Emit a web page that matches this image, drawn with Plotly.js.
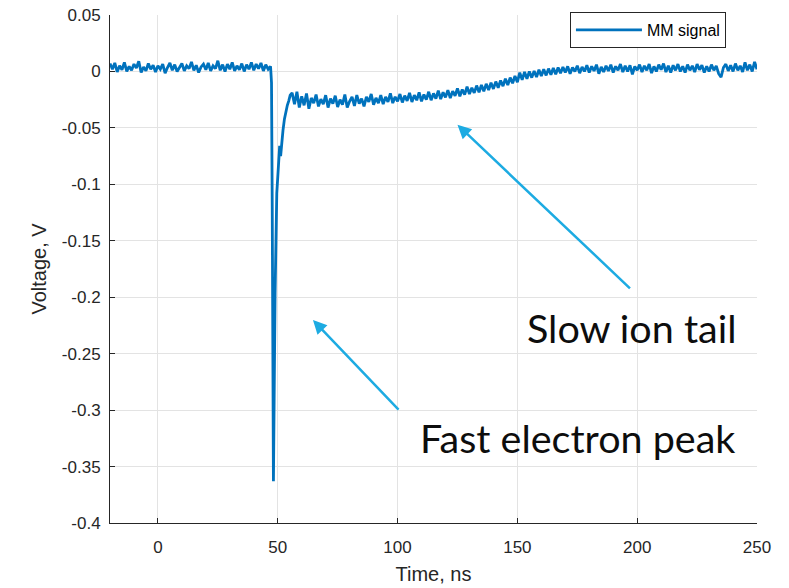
<!DOCTYPE html>
<html>
<head>
<meta charset="utf-8">
<script src="https://cdn.plot.ly/plotly-3.0.1.min.js"></script>
<style>
html,body{margin:0;padding:0;background:#fff;}
#chart{width:789px;height:588px;}
</style>
</head>
<body>
<div id="chart"></div>
<script>
// Baseline before the pulse (ns, V)
var preTime = [-20,-19,-18,-17,-16,-15,-14,-13,-12,-11,-10,-9,-8,-7,-6,-5,-4,-3,-2,-1,0,1,2,3,4,5,6,7,8,9,10,11,12,13,14,15,16,17,18,19,20,21,22,23,24,25,26,27,28,29,30,31,32,33,34,35,36,37,38,39,40,41,42,43,44,45,46,47];
var preVolt = [0.0070,0.0020,0.0075,-0.0005,0.0050,0.0015,0.0080,0.0000,0.0045,0.0010,
0.0065,0.0030,0.0090,-0.0010,0.0040,0.0005,0.0070,0.0020,0.0055,-0.0005,
0.0050,0.0020,0.0065,-0.0015,0.0035,0.0075,0.0010,0.0060,0.0000,0.0040,
0.0070,0.0005,0.0050,0.0025,0.0085,0.0010,0.0055,-0.0010,0.0040,0.0065,
0.0015,0.0075,0.0005,0.0050,0.0025,0.0095,0.0010,0.0060,0.0000,0.0065,
0.0020,0.0080,0.0005,0.0050,0.0015,0.0070,0.0000,0.0060,0.0020,0.0080,
0.0010,0.0065,0.0025,0.0075,0.0005,0.0060,0.0020,0.0045];

// Fast electron peak
var peakTime = [47.4,47.7,48.0,48.2,48.5,48.9,49.6,50.3,50.8,51.2,51.6,52.2,52.8,53.4,54.0,54.6,55.2];
var peakVolt = [-0.010,-0.120,-0.280,-0.363,-0.290,-0.196,-0.108,-0.079,-0.066,-0.075,-0.062,-0.052,-0.042,-0.034,-0.030,-0.026,-0.021];

// Slow ion tail
var tailTime = [56,57,58,59,60,61,62,63,64,65,66,67,68,69,70,71,72,73,74,75,76,77,78,79,80,81,82,83,84,85,86,87,88,89,90,91,92,93,94,95,96,97,98,99,100,101,102,103,104,105,106,107,108,109,110,111,112,113,114,115,116,117,118,119,120,121,122,123,124,125,126,127,128,129,130,131,132,133,134,135,136,137,138,139,140,141,142,143,144,145,146,147,148,149,150,151,152,153,154,155,156,157,158,159,160,161,162,163,164,165,166,167,168,169,170,171,172,173,174,175,176,177,178,179,180,181,182,183,184,185,186,187,188,189,190,191,192,193,194,195,196,197,198,199,200,201,202,203,204,205,206,207,208,209,210,211,212,213,214,215,216,217,218,219,220,221,222,223,224,225,226,227,228,229,230,231,232,233,234,235,236,237,238,239,240,241,242,243,244,245,246,247,248,249,250];
var tailVolt = [-0.0190,-0.0290,-0.0180,-0.0320,-0.0220,-0.0300,-0.0195,-0.0330,-0.0235,-0.0280,
-0.0205,-0.0310,-0.0245,-0.0290,-0.0210,-0.0320,-0.0240,-0.0285,-0.0215,-0.0315,
-0.0250,-0.0295,-0.0205,-0.0320,-0.0265,-0.0225,-0.0305,-0.0210,-0.0285,-0.0240,
-0.0310,-0.0225,-0.0270,-0.0200,-0.0295,-0.0235,-0.0280,-0.0210,-0.0290,-0.0225,
-0.0270,-0.0195,-0.0280,-0.0225,-0.0265,-0.0200,-0.0275,-0.0215,-0.0260,-0.0190,
-0.0270,-0.0210,-0.0255,-0.0185,-0.0265,-0.0205,-0.0250,-0.0180,-0.0255,-0.0195,
-0.0240,-0.0170,-0.0245,-0.0185,-0.0230,-0.0165,-0.0235,-0.0175,-0.0215,-0.0150,
-0.0220,-0.0160,-0.0205,-0.0135,-0.0200,-0.0145,-0.0190,-0.0125,-0.0185,-0.0120,
-0.0175,-0.0110,-0.0165,-0.0100,-0.0155,-0.0090,-0.0145,-0.0080,-0.0130,-0.0065,
-0.0120,-0.0055,-0.0105,-0.0040,-0.0095,-0.0010,-0.0075,-0.0005,-0.0065,0.0000,
-0.0055,0.0005,-0.0050,0.0015,-0.0040,0.0020,-0.0035,0.0025,-0.0030,0.0030,
-0.0025,0.0035,-0.0015,0.0040,-0.0010,0.0045,-0.0020,0.0035,0.0000,0.0050,
-0.0015,0.0040,0.0000,0.0055,-0.0010,0.0045,0.0005,0.0060,-0.0020,0.0040,
-0.0005,0.0050,0.0005,0.0060,-0.0010,0.0045,0.0010,0.0065,-0.0005,0.0050,
0.0000,0.0055,-0.0025,0.0045,0.0010,0.0060,-0.0005,0.0050,0.0010,0.0065,
-0.0015,0.0045,0.0000,0.0060,0.0015,0.0070,-0.0005,0.0050,-0.0010,0.0055,
0.0010,0.0065,0.0000,0.0045,-0.0010,0.0060,0.0010,0.0050,-0.0005,0.0065,
0.0015,0.0055,-0.0010,0.0045,0.0000,0.0060,0.0010,0.0050,-0.0020,-0.0050,
0.0035,0.0065,0.0005,0.0055,0.0000,0.0070,0.0010,0.0050,-0.0005,0.0080,
0.0010,0.0060,0.0000,0.0085,0.0020];

var xTicks = [0,50,100,150,200,250];
var yTicks = [-0.4,-0.35,-0.3,-0.25,-0.2,-0.15,-0.1,-0.05,0,0.05];
var yTickText = ['-0.4','-0.35','-0.3','-0.25','-0.2','-0.15','-0.1','-0.05','0','0.05'];
var seriesName = 'MM signal';
var labelIon = 'Slow ion tail';
var labelElectron = 'Fast electron peak';

var timeNs = preTime.concat(peakTime, tailTime);
var voltV = preVolt.concat(peakVolt, tailVolt);

var axisFont = {family: 'Liberation Sans, Arial, sans-serif', size: 17, color: '#262626'};
var titleFont = {family: 'Liberation Sans, Arial, sans-serif', size: 20, color: '#262626'};

var trace = {
  x: timeNs, y: voltV, type: 'scatter', mode: 'lines', name: seriesName,
  line: {color: '#0072BD', width: 2.8}
};

var layout = {
  width: 789, height: 588,
  margin: {l: 110, r: 32, t: 15, b: 65},
  paper_bgcolor: '#ffffff', plot_bgcolor: '#ffffff',
  showlegend: true,
  legend: {
    x: 0.952, xanchor: 'right', y: 1.006, yanchor: 'top',
    bgcolor: '#ffffff', bordercolor: '#262626', borderwidth: 1,
    itemwidth: 66,
    font: {family: 'Liberation Sans, Arial, sans-serif', size: 16, color: '#000000'}
  },
  xaxis: {
    range: [-20, 250], tickvals: xTicks, ticktext: xTicks.map(String),
    showgrid: true, gridcolor: '#e3e3e3', gridwidth: 1, zeroline: false,
    showline: true, linecolor: '#262626', linewidth: 1,
    ticks: 'inside', ticklen: 5, tickcolor: '#262626',
    ticklabelstandoff: 9,
    tickfont: axisFont,
    title: {text: 'Time, ns', font: titleFont, standoff: 10}
  },
  yaxis: {
    range: [-0.4, 0.05], tickvals: yTicks, ticktext: yTickText,
    showgrid: true, gridcolor: '#e3e3e3', gridwidth: 1, zeroline: false,
    showline: true, linecolor: '#262626', linewidth: 1,
    ticks: 'inside', ticklen: 5, tickcolor: '#262626',
    ticklabelstandoff: 5,
    tickfont: axisFont,
    title: {text: 'Voltage, V', font: titleFont, standoff: 9}
  },
  annotations: [
    {x: 125.0, y: -0.0472, xref: 'x', yref: 'y', text: '', showarrow: true,
     axref: 'pixel', ayref: 'pixel', ax: 174, ay: 165,
     arrowhead: 2, arrowsize: 1.1, arrowwidth: 2.5, arrowcolor: '#1DABE2'},
    {x: 64.7, y: -0.2202, xref: 'x', yref: 'y', text: '', showarrow: true,
     axref: 'pixel', ayref: 'pixel', ax: 87, ay: 91,
     arrowhead: 2, arrowsize: 1.1, arrowwidth: 2.5, arrowcolor: '#1DABE2'},
    {x: 197.5, y: -0.2264, xref: 'x', yref: 'y', text: labelIon, showarrow: false,
     xanchor: 'center', yanchor: 'middle',
     font: {family: 'Lato, Carlito, Calibri, sans-serif', size: 39.5, color: '#0d0d0d'}},
    {x: 174.9, y: -0.3239, xref: 'x', yref: 'y', text: labelElectron, showarrow: false,
     xanchor: 'center', yanchor: 'middle',
     font: {family: 'Lato, Carlito, Calibri, sans-serif', size: 39.5, color: '#0d0d0d'}}
  ]
};

Plotly.newPlot('chart', [trace], layout, {displayModeBar: false, staticPlot: true});
</script>
</body>
</html>
